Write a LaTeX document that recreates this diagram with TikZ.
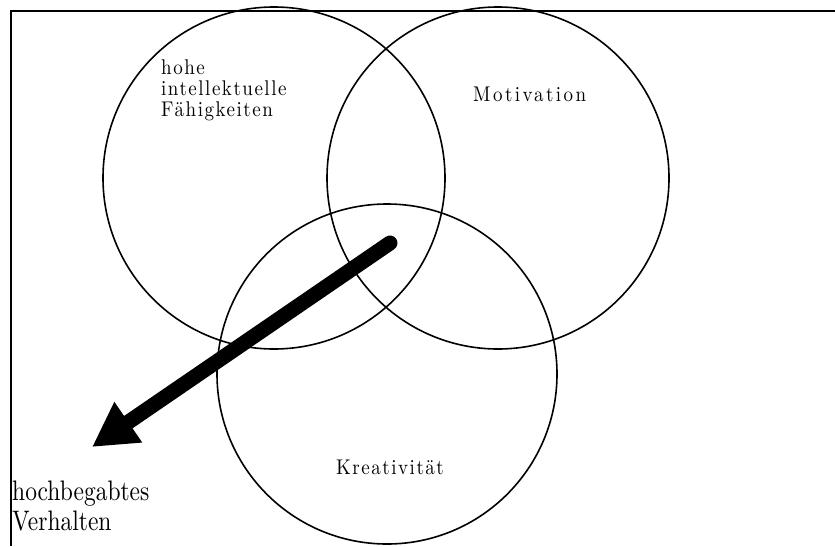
\documentclass[tikz,border=0pt]{standalone}
\usepackage{fontspec}
\newfontfamily\spaced{lmroman10-regular}[Extension=.otf, LetterSpace=8]
\newfontfamily\bigfont{lmroman10-regular}[Extension=.otf]
\usetikzlibrary{arrows.meta}
\newcommand\vstretch[1]{\scalebox{1}[1.2]{#1}}
\newcommand\vlift[1]{\scalebox{1}[1.12]{#1}}
\begin{document}
\begin{tikzpicture}[x=1pt,y=-1pt,
  ring/.style={circle, draw, line width=1.6pt, minimum size=#1, inner sep=0pt},
  small/.style={inner sep=0pt, font=\spaced\fontsize{19}{21}\selectfont, align=left},
  big/.style={inner sep=0pt, font=\bigfont\fontsize{23.5}{30}\selectfont, align=left},
  framel/.style={line width=2.4pt},
  bigarrow/.style={line width=15pt, line cap=round, -{Triangle[length=44pt,width=46pt]}}]
\useasboundingbox (0,0) rectangle (835,546);
\coordinate (tr) at (835,11);
\coordinate (tl) at (11,11);
\coordinate (bl) at (11,546);
\draw[framel] (tr) -- (tl) -- (bl);
\node[ring=342pt] (intel) at (274,178) {};
\node[ring=342pt] (motiv) at (498,178) {};
\node[ring=340pt] (kreat) at (387,374) {};
\node[small, anchor=north west] (t1) at (161,60) {\vlift{hohe}\\\vlift{intellektuelle}\\\vlift{Fähigkeiten}};
\node[small, anchor=base west] (t2) at (473,101) {\addfontfeature{LetterSpace=13}\vlift{Motivation}};
\node[small, anchor=base west] (t3) at (336,474) {\vlift{Kreativität}};
\node[big, anchor=north west] (t4) at (12,480.5) {\vstretch{hochbegabtes}\\\vstretch{Verhalten}};
\coordinate (as) at (390,243);
\coordinate (ae) at (92,447);
\draw[bigarrow] (as) -- (ae);
\end{tikzpicture}
\end{document}
